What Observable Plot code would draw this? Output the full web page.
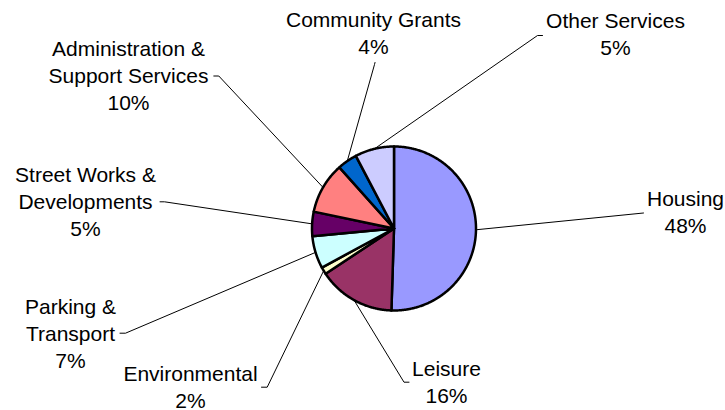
<!DOCTYPE html>
<html><head><meta charset="utf-8">
<script src="https://cdn.jsdelivr.net/npm/d3@7"></script>
<script src="https://cdn.jsdelivr.net/npm/@observablehq/plot@0.6"></script>
<style>
html,body{margin:0;padding:0;background:#fff}
#chart svg{display:block}
</style>
</head><body><div id="chart"></div>
<script>
// ---- data (slice sizes, clockwise from 12 o'clock) ----
const categories = ["Housing", "Leisure", "Environmental", "Parking & Transport",
  "Street Works & Developments", "Administration & Support Services", "Community Grants", "Other Services"];
const shares = [50.5, 15.2, 1.4, 6.4, 4.8, 10.1, 3.9, 7.7];
const percentLabels = ["48%", "16%", "2%", "7%", "5%", "10%", "4%", "5%"];
const labelTexts = ["Housing", "Leisure", "Environmental", "Parking &\nTransport",
  "Street Works &\nDevelopments", "Administration &\nSupport Services", "Community Grants", "Other Services"];
const colors = ["#9999FF", "#993366", "#FFFFCC", "#CCFFFF", "#660066", "#FF8080", "#0066CC", "#CCCCFF"];

// ---- layout (pixel positions) ----
const W = 725, H = 410;
const cx = 393.5, cy = 228, R = 82;
const labelPos = [[685, 232], [446, 402], [190, 407], [70, 367], [85, 235], [128, 109], [373, 53], [615, 54.5]];
const leaderEnds = [
  [[643, 212.5]],
  [[403.5, 381.7], [408.5, 381.7]],
  [[266.7, 386.7], [261, 386.7]],
  [[125, 332.7], [119.5, 332.7]],
  [[164, 201.3], [159.5, 201.3]],
  [[218.3, 75.5], [213.3, 75.5]],
  [[374, 64], [374.5, 62]],
  [[537, 35], [542, 35]]
];

const arcs = d3.pie().sort(null).value(d => d)(shares);
const pt = (a, r) => [cx + r * Math.sin(a), cy - r * Math.cos(a)];

const sliceRows = [];
arcs.forEach((a, i) => {
  sliceRows.push({name: categories[i], color: colors[i], x: cx, y: cy});
  const n = Math.max(2, Math.ceil((a.endAngle - a.startAngle) / (Math.PI / 360)));
  for (let k = 0; k <= n; ++k) {
    const t = a.startAngle + (a.endAngle - a.startAngle) * k / n;
    const [x, y] = pt(t, R);
    sliceRows.push({name: categories[i], color: colors[i], x, y});
  }
  sliceRows.push({name: categories[i], color: colors[i], x: cx, y: cy});
});

const leaderRows = [];
arcs.forEach((a, i) => {
  const [x0, y0] = pt((a.startAngle + a.endAngle) / 2, R);
  leaderRows.push({name: categories[i], x: x0, y: y0});
  for (const [x, y] of leaderEnds[i]) leaderRows.push({name: categories[i], x, y});
});

const textRows = categories.map((c, i) => ({
  text: labelTexts[i] + "\n" + percentLabels[i], x: labelPos[i][0], y: labelPos[i][1]
}));

const chart = Plot.plot({
  width: W, height: H,
  margin: 0,
  x: {domain: [0, W], axis: null},
  y: {domain: [H, 0], axis: null},
  style: {background: "#fff", fontFamily: "'Liberation Sans', Arial, sans-serif"},
  marks: [
    Plot.line(leaderRows, {x: "x", y: "y", z: "name", stroke: "#000", strokeWidth: 1}),
    Plot.line(sliceRows, {x: "x", y: "y", z: "name", fill: "color", stroke: "#000", strokeWidth: 2.5, strokeLinejoin: "round"}),
    Plot.text(textRows, {x: "x", y: "y", text: "text", textAnchor: "middle", lineAnchor: "bottom",
      lineHeight: 1.28, fontSize: 21, fill: "#000"})
  ]
});
document.getElementById("chart").appendChild(chart);
</script>
</body></html>
